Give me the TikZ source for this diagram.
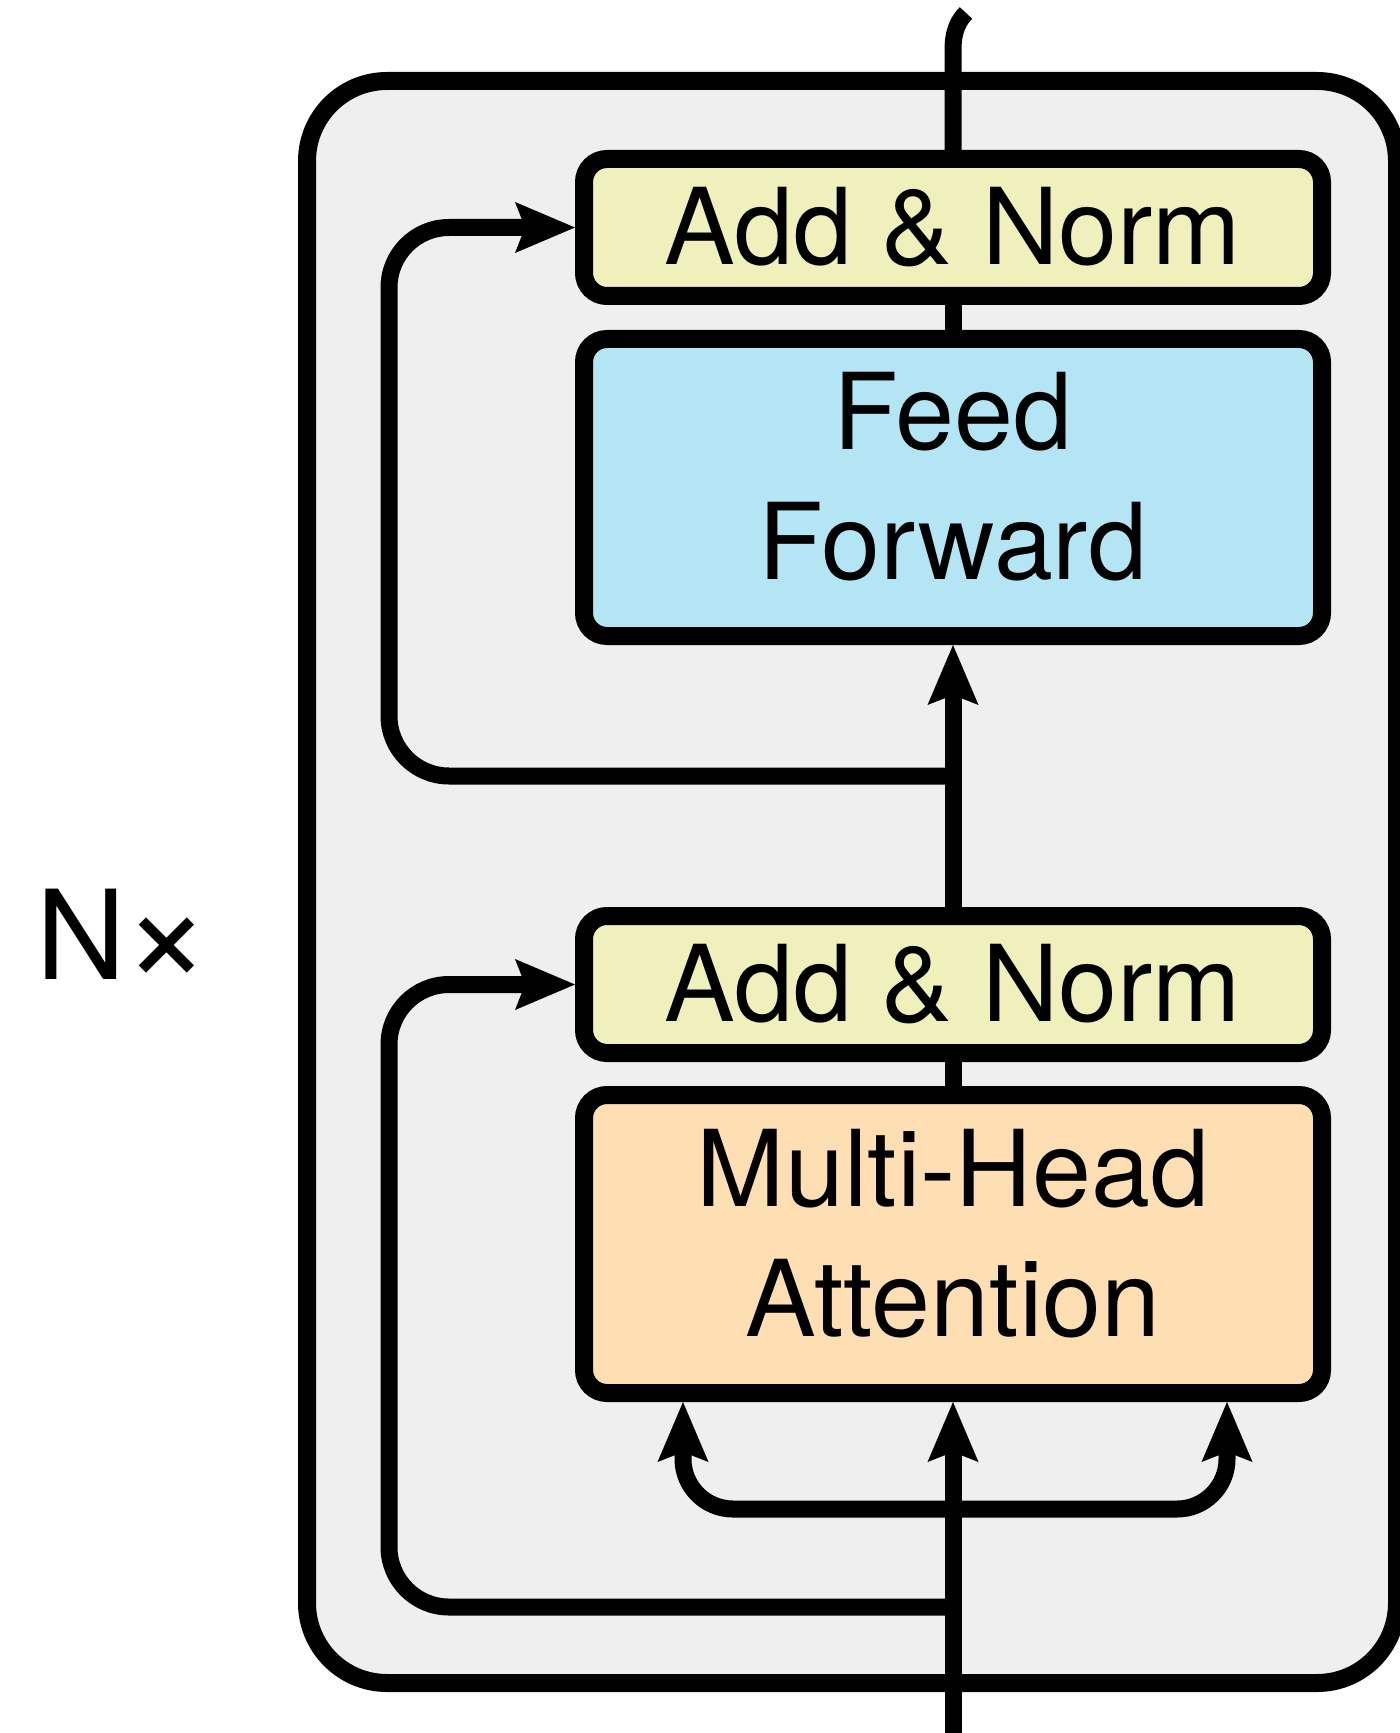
\documentclass[tikz,border=0pt]{standalone}
\usepackage{fontspec}
\setmainfont{TeX Gyre Heros}
\usepackage{tikz}
\usetikzlibrary{arrows.meta}
\definecolor{bggray}{RGB}{239,239,239}
\definecolor{normyellow}{RGB}{239,240,187}
\definecolor{ffblue}{RGB}{179,229,245}
\definecolor{mhapeach}{RGB}{254,223,180}
\tikzset{
  block/.style={draw, line width=9pt, rounded corners=11.5pt, minimum width=369pt,
    inner sep=0pt, align=center, font=\fontsize{53}{65}\selectfont},
  conn/.style={line width=8.5pt},
  >={Stealth[length=30pt, width=25.5pt, inset=5pt, line width=0pt 0 0]}
}

\begin{document}
\begin{tikzpicture}[x=0.5pt, y=-0.5pt]
\useasboundingbox (0,0) rectangle (1399,1733);

\draw[line width=9pt, fill=bggray, rounded corners=40pt] (307,81) rectangle (1397,1683);

\node[block, fill=normyellow, minimum height=68.5pt] (anTop) at (953,227.5) {Add \& Norm};
\node[block, fill=ffblue, minimum height=148.5pt] (ff) at (953,487.5) {Feed\\Forward\vphantom{g}};
\node[block, fill=normyellow, minimum height=68.5pt] (anLow) at (953,984.5) {Add \& Norm};
\node[block, fill=mhapeach, minimum height=149pt] (mha) at (953,1244) {Multi-Head\\Attention\vphantom{g}};

\node[font=\fontsize{62}{74}\selectfont] (nx) at (124,936) {N\kern-2pt\raisebox{-2pt}{\fontsize{76}{76}\selectfont ×}};

\coordinate (inp) at (953,1750);
\coordinate (forkA) at (953,1607);
\coordinate (forkB) at (953,776);
\coordinate (topBend) at (953,50);
\coordinate (outp) at (966,13);

% main path
\draw[conn, ->] (inp) -- (mha.south);
\draw[conn] (mha.north) -- (anLow.south);
\draw[conn, ->] (anLow.north) -- (ff.south);
\draw[conn] (ff.north) -- (anTop.south);
\draw[conn] (anTop.north) -- (topBend) .. controls +(0,-20) and +(-7,7) .. (outp);

% residual connections
\draw[conn, ->, rounded corners=30pt] (forkA) -- ++(-564,0) |- (anLow.west);
\draw[conn, ->, rounded corners=30pt] (forkB) -- ++(-564,0) |- (anTop.west);

% query, key, value
\draw[conn, <->, rounded corners=25pt] ([xshift=-135pt]mha.south) -- ++(0,107) -| ([xshift=137pt]mha.south);

\end{tikzpicture}
\end{document}
